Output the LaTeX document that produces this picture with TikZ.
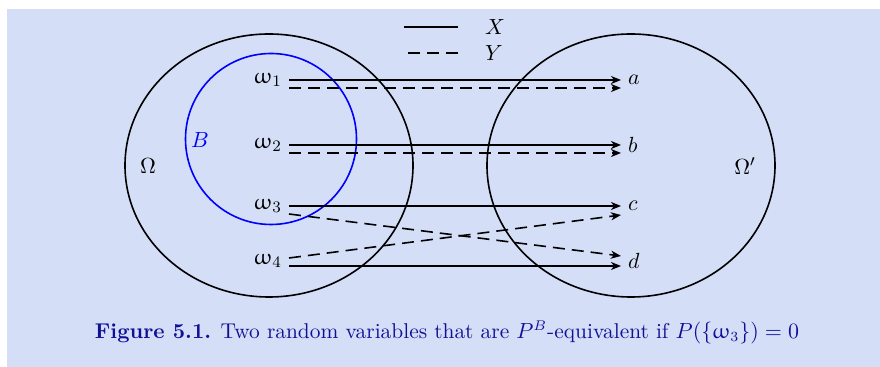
\documentclass[tikz,border=0pt]{standalone}
\usepackage{amsmath}
\usepackage{upgreek}
\usepackage{xcolor}
\usetikzlibrary{arrows.meta,shapes.geometric}
\definecolor{figbg}{RGB}{212,222,246}
\definecolor{capblue}{RGB}{16,16,150}

\begin{document}
\begin{tikzpicture}[x=0.5pt, y=-0.5pt, font=\fontsize{11}{13}\selectfont,
    xmap/.style={thick, -{Stealth[length=5pt, width=4pt, inset=1.5pt]}},
    ymap/.style={thick, dash pattern=on 6pt off 3.5pt, -{Stealth[length=5pt, width=4pt, inset=1.5pt]}}]
    \useasboundingbox (0,0) rectangle (880,367);
    \fill[figbg] (7,9) rectangle (880,367);

    % Sets
    \node[ellipse, draw, thick, minimum width=144pt, minimum height=131.5pt] (om) at (269,165.5) {};
    \node[ellipse, draw, thick, minimum width=144pt, minimum height=131.5pt] (omp) at (631,165.5) {};
    \node[circle, draw=blue, thick, minimum size=85.5pt] (bset) at (271,139) {};
    \node (omlab) at (148,166) {$\Omega$};
    \node (omplab) at (745,166) {$\Omega'$};
    \node[text=blue] (blab) at (200,140) {$B$};

    % Points
    \node[anchor=east] (w1) at (289,80) {$\upomega_1$};
    \node[anchor=east] (w2) at (289,145) {$\upomega_2$};
    \node[anchor=east] (w3) at (289,206) {$\upomega_3$};
    \node[anchor=east] (w4) at (289,261) {$\upomega_4$};
    \node[anchor=west] (a) at (621,80) {$a$};
    \node[anchor=west] (b) at (621,145) {$b$};
    \node[anchor=west] (c) at (621,206) {$c$};
    \node[anchor=west] (d) at (621,261) {$d$};

    % X
    \draw[xmap] (w1.east) -- (a.west);
    \draw[xmap] (w2.east) -- (b.west);
    \draw[xmap] (w3.east) -- (c.west);
    \draw[xmap] ([yshift=-2.5pt]w4.east) -- ([yshift=-2.5pt]d.west);

    % Y
    \draw[ymap] ([yshift=-4pt]w1.east) -- ([yshift=-4pt]a.west);
    \draw[ymap] ([yshift=-4pt]w2.east) -- ([yshift=-4pt]b.west);
    \draw[ymap] ([yshift=-4pt]w3.east) -- ([yshift=2.5pt]d.west);
    \draw[ymap] ([yshift=1.5pt]w4.east) -- ([yshift=-4.5pt]c.west);

    % Legend
    \node[anchor=west] (lx) at (478,27) {$X$};
    \node[anchor=west] (ly) at (478,53) {$Y$};
    \draw[thick] ([xshift=-10pt]lx.west) -- ++(-54,0);
    \draw[thick, dash pattern=on 6pt off 3.5pt] ([xshift=-10pt]ly.west) -- ++(-54,0);

    % Caption
    \node[text=capblue, font=\fontsize{10.7}{13}\selectfont] (cap) at (447,332) {\textbf{Figure 5.1.} Two random variables that are $P^B$-equivalent if $P(\{\upomega_3\}) = 0$};
\end{tikzpicture}
\end{document}
